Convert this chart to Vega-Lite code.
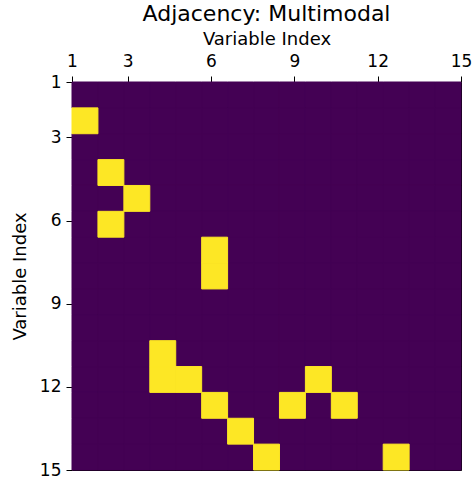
{
  "$schema": "https://vega.github.io/schema/vega-lite/v6.json",
  "autosize": {"type": "none"},
  "width": 389,
  "height": 388,
  "padding": {"left": 72, "top": 82, "right": 13, "bottom": 10},
  "background": "white",
  "config": {
    "font": "DejaVu Sans",
    "view": {"stroke": "black", "strokeWidth": 1, "fill": "#440154"},
    "axis": {"grid": false, "domainColor": "black", "tickColor": "black", "labelColor": "black", "titleColor": "black", "labelFont": "DejaVu Sans", "titleFont": "DejaVu Sans", "titleFontWeight": "normal"}
  },
  "title": {"text": "Adjacency: Multimodal", "fontSize": 22, "fontWeight": "normal", "font": "DejaVu Sans", "color": "black", "anchor": "middle", "offset": 4},
  "datasets": {
    "matrix": [
      {"r": 1, "c1": 0, "c2": 0, "c3": 0, "c4": 0, "c5": 0, "c6": 0, "c7": 0, "c8": 0, "c9": 0, "c10": 0, "c11": 0, "c12": 0, "c13": 0, "c14": 0, "c15": 0},
      {"r": 2, "c1": 1, "c2": 0, "c3": 0, "c4": 0, "c5": 0, "c6": 0, "c7": 0, "c8": 0, "c9": 0, "c10": 0, "c11": 0, "c12": 0, "c13": 0, "c14": 0, "c15": 0},
      {"r": 3, "c1": 0, "c2": 0, "c3": 0, "c4": 0, "c5": 0, "c6": 0, "c7": 0, "c8": 0, "c9": 0, "c10": 0, "c11": 0, "c12": 0, "c13": 0, "c14": 0, "c15": 0},
      {"r": 4, "c1": 0, "c2": 1, "c3": 0, "c4": 0, "c5": 0, "c6": 0, "c7": 0, "c8": 0, "c9": 0, "c10": 0, "c11": 0, "c12": 0, "c13": 0, "c14": 0, "c15": 0},
      {"r": 5, "c1": 0, "c2": 0, "c3": 1, "c4": 0, "c5": 0, "c6": 0, "c7": 0, "c8": 0, "c9": 0, "c10": 0, "c11": 0, "c12": 0, "c13": 0, "c14": 0, "c15": 0},
      {"r": 6, "c1": 0, "c2": 1, "c3": 0, "c4": 0, "c5": 0, "c6": 0, "c7": 0, "c8": 0, "c9": 0, "c10": 0, "c11": 0, "c12": 0, "c13": 0, "c14": 0, "c15": 0},
      {"r": 7, "c1": 0, "c2": 0, "c3": 0, "c4": 0, "c5": 0, "c6": 1, "c7": 0, "c8": 0, "c9": 0, "c10": 0, "c11": 0, "c12": 0, "c13": 0, "c14": 0, "c15": 0},
      {"r": 8, "c1": 0, "c2": 0, "c3": 0, "c4": 0, "c5": 0, "c6": 1, "c7": 0, "c8": 0, "c9": 0, "c10": 0, "c11": 0, "c12": 0, "c13": 0, "c14": 0, "c15": 0},
      {"r": 9, "c1": 0, "c2": 0, "c3": 0, "c4": 0, "c5": 0, "c6": 0, "c7": 0, "c8": 0, "c9": 0, "c10": 0, "c11": 0, "c12": 0, "c13": 0, "c14": 0, "c15": 0},
      {"r": 10, "c1": 0, "c2": 0, "c3": 0, "c4": 0, "c5": 0, "c6": 0, "c7": 0, "c8": 0, "c9": 0, "c10": 0, "c11": 0, "c12": 0, "c13": 0, "c14": 0, "c15": 0},
      {"r": 11, "c1": 0, "c2": 0, "c3": 0, "c4": 1, "c5": 0, "c6": 0, "c7": 0, "c8": 0, "c9": 0, "c10": 0, "c11": 0, "c12": 0, "c13": 0, "c14": 0, "c15": 0},
      {"r": 12, "c1": 0, "c2": 0, "c3": 0, "c4": 1, "c5": 1, "c6": 0, "c7": 0, "c8": 0, "c9": 0, "c10": 1, "c11": 0, "c12": 0, "c13": 0, "c14": 0, "c15": 0},
      {"r": 13, "c1": 0, "c2": 0, "c3": 0, "c4": 0, "c5": 0, "c6": 1, "c7": 0, "c8": 0, "c9": 1, "c10": 0, "c11": 1, "c12": 0, "c13": 0, "c14": 0, "c15": 0},
      {"r": 14, "c1": 0, "c2": 0, "c3": 0, "c4": 0, "c5": 0, "c6": 0, "c7": 1, "c8": 0, "c9": 0, "c10": 0, "c11": 0, "c12": 0, "c13": 0, "c14": 0, "c15": 0},
      {"r": 15, "c1": 0, "c2": 0, "c3": 0, "c4": 0, "c5": 0, "c6": 0, "c7": 0, "c8": 1, "c9": 0, "c10": 0, "c11": 0, "c12": 0, "c13": 1, "c14": 0, "c15": 0}
    ],
    "extent": [{"v": 1}, {"v": 15}]
  },
  "layer": [
    {
      "data": {"name": "matrix"},
      "transform": [
        {"fold": ["c1", "c2", "c3", "c4", "c5", "c6", "c7", "c8", "c9", "c10", "c11", "c12", "c13", "c14", "c15"], "as": ["col", "value"]}
      ],
      "mark": {"type": "rect", "strokeWidth": 1},
      "encoding": {
        "x": {"field": "col", "type": "ordinal", "axis": null, "scale": {"domain": ["c1", "c2", "c3", "c4", "c5", "c6", "c7", "c8", "c9", "c10", "c11", "c12", "c13", "c14", "c15"], "paddingInner": 0, "paddingOuter": 0}},
        "y": {"field": "r", "type": "ordinal", "axis": null, "scale": {"domain": [1, 2, 3, 4, 5, 6, 7, 8, 9, 10, 11, 12, 13, 14, 15], "paddingInner": 0, "paddingOuter": 0}},
        "color": {"field": "value", "type": "quantitative", "legend": null, "scale": {"domain": [0, 1], "range": ["#440154", "#fde725"]}},
        "stroke": {"field": "value", "type": "quantitative", "legend": null, "scale": {"domain": [0, 1], "range": ["#440154", "#fde725"]}},
        "order": {"field": "value", "type": "quantitative"}
      }
    },
    {
      "data": {"name": "extent"},
      "mark": {"type": "point", "opacity": 0},
      "encoding": {
        "x": {"field": "v", "type": "quantitative", "scale": {"domain": [1, 15], "nice": false, "zero": false},
          "axis": {"orient": "top", "values": [1, 3, 6, 9, 12, 15], "title": "Variable Index", "titleFontSize": 18, "labelFontSize": 17, "tickSize": 6, "labelPadding": 6, "titlePadding": 4, "domain": false, "labelFlush": false}},
        "y": {"field": "v", "type": "quantitative", "scale": {"domain": [1, 15], "nice": false, "zero": false, "reverse": true},
          "axis": {"orient": "left", "values": [1, 3, 6, 9, 12, 15], "title": "Variable Index", "titleFontSize": 18, "labelFontSize": 17, "tickSize": 6, "labelPadding": 5, "titlePadding": 10, "domain": false, "labelFlush": false}}
      }
    }
  ],
  "resolve": {"scale": {"x": "independent", "y": "independent"}}
}
